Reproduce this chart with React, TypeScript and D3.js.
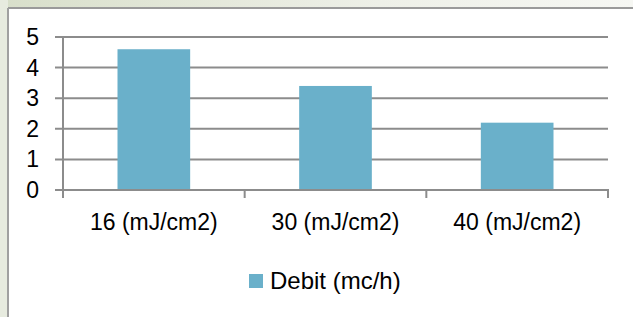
import React, { useEffect, useRef } from 'react';
import * as d3 from 'd3';

const categories = ['16 (mJ/cm2)', '30 (mJ/cm2)', '40 (mJ/cm2)'];
const debit = [4.6, 3.4, 2.2];
const yTicks = [0, 1, 2, 3, 4, 5];
const seriesName = 'Debit (mc/h)';

const W = 633;
const H = 317;
const FONT = '"Liberation Sans", Arial, sans-serif';

const App = () => {
  const ref = useRef<SVGGElement>(null);

  useEffect(() => {
    const g = d3.select(ref.current);
    g.selectAll('*').remove();

    const left = 63, right = 608, top = 37, bottom = 190;

    const x = d3.scaleBand().domain(categories).range([left, right]).paddingInner(0.6).paddingOuter(0.3);
    const xb = d3.scaleBand().domain(categories).range([left, right]);
    const y = d3.scaleLinear().domain([0, 5]).range([bottom, top]);

    // gridlines
    g.selectAll('line.grid')
      .data(yTicks)
      .enter()
      .append('line')
      .attr('x1', left - 8)
      .attr('x2', right)
      .attr('y1', d => y(d))
      .attr('y2', d => y(d))
      .attr('stroke', '#8c8c8c')
      .attr('stroke-width', 2);

    // y labels
    g.selectAll('text.ylab')
      .data(yTicks)
      .enter()
      .append('text')
      .attr('x', 39)
      .attr('y', d => y(d) + 8)
      .attr('text-anchor', 'end')
      .attr('font-family', FONT)
      .attr('font-size', 23)
      .attr('fill', '#000')
      .text(d => d);

    // bars
    g.selectAll('rect.bar')
      .data(debit)
      .enter()
      .append('rect')
      .attr('x', (d, i) => x(categories[i]) as number)
      .attr('width', x.bandwidth())
      .attr('y', d => y(d))
      .attr('height', d => y(0) - y(d))
      .attr('fill', '#6ab0ca');

    // axes
    g.append('line')
      .attr('x1', left).attr('x2', left)
      .attr('y1', top).attr('y2', bottom + 8)
      .attr('stroke', '#8c8c8c').attr('stroke-width', 2);
    g.append('line')
      .attr('x1', left - 8).attr('x2', right + 1)
      .attr('y1', bottom).attr('y2', bottom)
      .attr('stroke', '#8c8c8c').attr('stroke-width', 2);

    const bounds = categories.map(c => (xb(c) as number) + xb.bandwidth());
    g.selectAll('line.xtick')
      .data(bounds)
      .enter()
      .append('line')
      .attr('x1', d => d).attr('x2', d => d)
      .attr('y1', bottom).attr('y2', bottom + 8)
      .attr('stroke', '#8c8c8c').attr('stroke-width', 2);

    // x labels
    g.selectAll('text.xlab')
      .data(categories)
      .enter()
      .append('text')
      .attr('x', d => (xb(d) as number) + xb.bandwidth() / 2)
      .attr('y', 230)
      .attr('text-anchor', 'middle')
      .attr('font-family', FONT)
      .attr('font-size', 23)
      .attr('fill', '#000')
      .text(d => d);

    // legend
    g.append('rect')
      .attr('x', 249).attr('y', 274)
      .attr('width', 14).attr('height', 14)
      .attr('fill', '#6ab0ca');
    g.append('text')
      .attr('x', 270).attr('y', 289)
      .attr('font-family', FONT)
      .attr('font-size', 24)
      .attr('fill', '#000')
      .text(seriesName);
  }, []);

  return (
    <svg width={W} height={H} style={{ position: 'absolute', left: 0, top: 0 }}>
      <defs>
        <linearGradient id="topband" x1="0" x2="1" y1="0" y2="0">
          <stop offset="0" stopColor="#d8dfca" />
          <stop offset="0.6" stopColor="#eef0e8" />
          <stop offset="1" stopColor="#f6f7f3" />
        </linearGradient>
      </defs>
      <rect x={0} y={0} width={W} height={H} fill="#ffffff" />
      <rect x={0} y={0} width={W} height={8} fill="url(#topband)" />
      <rect x={0} y={0} width={8} height={H} fill="#e7ebdf" />
      <line x1={8} x2={W} y1={8} y2={8} stroke="#9a9a9a" strokeWidth={2} />
      <line x1={8} x2={8} y1={8} y2={H} stroke="#a0a0a0" strokeWidth={2} />
      <g ref={ref} />
    </svg>
  );
};

export default App;
